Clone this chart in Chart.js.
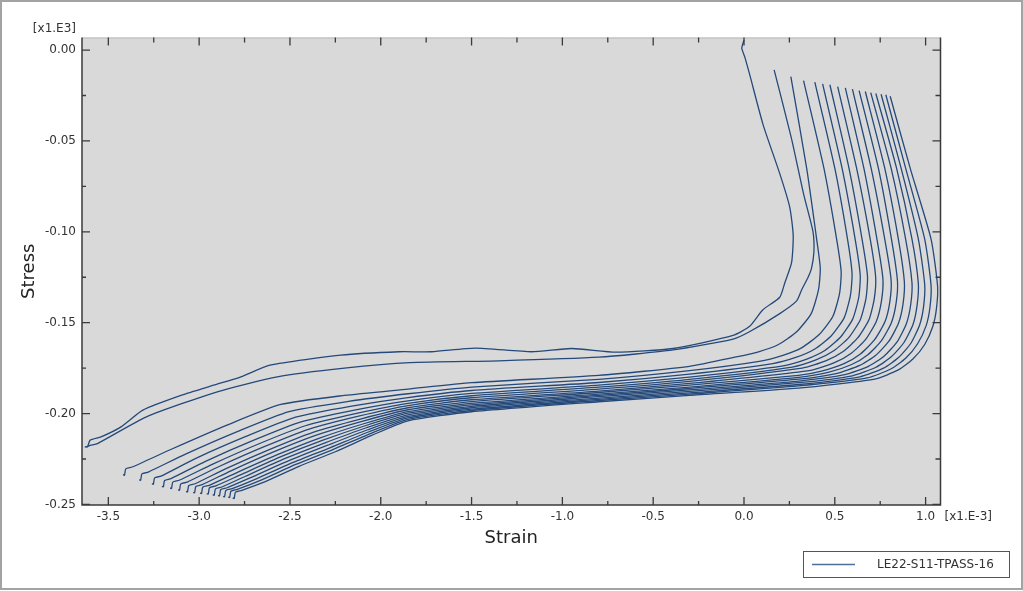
<!DOCTYPE html>
<html><head><meta charset="utf-8">
<script src="https://cdn.jsdelivr.net/npm/chart.js@4/dist/chart.umd.min.js"></script>
<style>html,body{margin:0;padding:0;background:#fff;}canvas{display:block;}</style>
</head><body>
<canvas id="c" width="1023" height="591"></canvas>
<script>
// ---- tick labels / axis values ----
const xTickValues = [-3.5, -3.0, -2.5, -2.0, -1.5, -1.0, -0.5, 0.0, 0.5, 1.0];
const xMinorValues = [-3.25, -2.75, -2.25, -1.75, -1.25, -0.75, -0.25, 0.25, 0.75];
const yTickValues = [0.00, -0.05, -0.10, -0.15, -0.20, -0.25];
const yMinorValues = [-0.025, -0.075, -0.125, -0.175, -0.225];
const xTitle = 'Strain';
const yTitle = 'Stress';
const xExponent = '[x1.E-3]';
const yExponent = '[x1.E3]';
const seriesName = 'LE22-S11-TPASS-16';

// ---- series (strain [x1.E-3], stress [x1.E3]) ----
const curveA = [[0.000,0.0055],[-0.012,0.001],[0.005,-0.004],[0.030,-0.013],[0.105,-0.041],[0.197,-0.068],[0.252,-0.0865],[0.271,-0.102],[0.262,-0.117],[0.225,-0.128],[0.197,-0.136],[0.103,-0.143],[0.031,-0.152],[-0.06,-0.157],[-0.39,-0.1642],[-0.705,-0.1662],[-0.95,-0.1642],[-1.17,-0.166],[-1.48,-0.164],[-1.72,-0.166],[-1.9,-0.166],[-2.22,-0.1679],[-2.61,-0.1734],[-2.77,-0.1798],[-2.92,-0.1844],[-3.1,-0.19],[-3.31,-0.1981],[-3.43,-0.2073],[-3.54,-0.2128],[-3.6,-0.2146],[-3.615,-0.2183],[-3.63,-0.2183]];
const curveB = [[0.166,-0.0109],[0.26,-0.048],[0.33,-0.08],[0.38,-0.1],[0.385,-0.111],[0.372,-0.12],[0.353,-0.125],[0.317,-0.132],[0.29,-0.138],[0.197,-0.145],[0.03,-0.155],[-0.06,-0.159],[-0.39,-0.165],[-0.8,-0.169],[-1.35,-0.171],[-1.84,-0.172],[-2.2,-0.175],[-2.57,-0.1798],[-2.9,-0.188],[-3.29,-0.2018],[-3.56,-0.2165],[-3.6,-0.2175],[-3.625,-0.2185]];
const curveC = [[0.258,-0.0146],[0.345,-0.065],[0.40,-0.104],[0.42,-0.12],[0.41,-0.132],[0.37,-0.145],[0.29,-0.155],[0.19,-0.162],[0.08,-0.166],[-0.05,-0.169],[-0.3,-0.174],[-0.8,-0.179],[-1.5,-0.183],[-1.85,-0.1865],[-2.2,-0.19],[-2.55,-0.195],[-2.85,-0.2065],[-3.15,-0.2195],[-3.369,-0.2294],[-3.404,-0.2304],[-3.411,-0.2339],[-3.419,-0.2336]];
const curveD = [[0.328,-0.0168],[0.44,-0.065],[0.51,-0.104],[0.535,-0.122],[0.526,-0.134],[0.489,-0.1466],[0.414,-0.1565],[0.319,-0.1637],[0.214,-0.168],[0.084,-0.1713],[-0.3,-0.1764],[-0.8,-0.1812],[-1.5,-0.1854],[-1.85,-0.1891],[-2.178,-0.1933],[-2.505,-0.1989],[-2.79,-0.2099],[-3.075,-0.2223],[-3.28,-0.2322],[-3.315,-0.2332],[-3.322,-0.2367],[-3.33,-0.2364]];
const curveE = [[0.39,-0.0177],[0.50,-0.065],[0.57,-0.104],[0.595,-0.123],[0.586,-0.135],[0.552,-0.1472],[0.481,-0.1572],[0.39,-0.1645],[0.289,-0.169],[0.158,-0.1725],[-0.3,-0.1783],[-0.8,-0.1829],[-1.5,-0.1873],[-1.85,-0.1912],[-2.16,-0.1959],[-2.469,-0.202],[-2.742,-0.2126],[-3.015,-0.2245],[-3.21,-0.2344],[-3.245,-0.2354],[-3.252,-0.2389],[-3.26,-0.2386]];
const curveF = [[0.433,-0.0186],[0.54,-0.065],[0.612,-0.104],[0.64,-0.124],[0.632,-0.136],[0.599,-0.1479],[0.532,-0.1579],[0.445,-0.1653],[0.346,-0.17],[0.216,-0.1737],[-0.3,-0.1799],[-0.8,-0.1844],[-1.5,-0.1889],[-1.85,-0.193],[-2.145,-0.1981],[-2.439,-0.2046],[-2.702,-0.2148],[-2.965,-0.2263],[-3.155,-0.2358],[-3.19,-0.2368],[-3.197,-0.2403],[-3.205,-0.24]];
const curveG = [[0.473,-0.0191],[0.578,-0.065],[0.65,-0.104],[0.68,-0.1245],[0.672,-0.1365],[0.641,-0.1482],[0.577,-0.1582],[0.492,-0.1656],[0.396,-0.1705],[0.266,-0.1744],[-0.3,-0.1812],[-0.8,-0.1855],[-1.5,-0.1902],[-1.85,-0.1944],[-2.133,-0.1999],[-2.415,-0.2067],[-2.67,-0.2166],[-2.925,-0.2278],[-3.11,-0.2367],[-3.145,-0.2377],[-3.152,-0.2412],[-3.16,-0.2409]];
const curveH = [[0.516,-0.0201],[0.62,-0.065],[0.695,-0.104],[0.725,-0.125],[0.717,-0.137],[0.688,-0.1484],[0.626,-0.1584],[0.544,-0.166],[0.45,-0.171],[0.32,-0.175],[-0.3,-0.1823],[-0.8,-0.1865],[-1.5,-0.1913],[-1.85,-0.1956],[-2.122,-0.2014],[-2.394,-0.2085],[-2.642,-0.2182],[-2.89,-0.2291],[-3.066,-0.2377],[-3.101,-0.2387],[-3.108,-0.2422],[-3.116,-0.2419]];
const curveI = [[0.558,-0.0208],[0.66,-0.065],[0.732,-0.104],[0.765,-0.126],[0.757,-0.138],[0.729,-0.1492],[0.67,-0.1592],[0.591,-0.1668],[0.498,-0.172],[0.368,-0.1762],[-0.3,-0.1834],[-0.8,-0.1876],[-1.5,-0.1924],[-1.85,-0.1968],[-2.112,-0.203],[-2.373,-0.2103],[-2.614,-0.2198],[-2.855,-0.2304],[-3.022,-0.2386],[-3.057,-0.2396],[-3.064,-0.2431],[-3.072,-0.2428]];
const curveJ = [[0.597,-0.0215],[0.70,-0.065],[0.775,-0.104],[0.81,-0.1265],[0.803,-0.1385],[0.776,-0.1495],[0.718,-0.1595],[0.641,-0.1672],[0.551,-0.1725],[0.421,-0.1768],[0.3,-0.179],[-0.3,-0.1844],[-0.8,-0.1884],[-1.5,-0.1934],[-1.85,-0.1979],[-2.103,-0.2043],[-2.355,-0.2119],[-2.59,-0.2211],[-2.825,-0.2315],[-2.983,-0.2391],[-3.018,-0.2401],[-3.025,-0.2436],[-3.033,-0.2433]];
const curveK = [[0.634,-0.0223],[0.74,-0.065],[0.812,-0.104],[0.845,-0.127],[0.838,-0.139],[0.812,-0.1499],[0.757,-0.1599],[0.682,-0.1676],[0.593,-0.173],[0.463,-0.1774],[0.3,-0.1801],[-0.3,-0.1854],[-0.8,-0.1893],[-1.5,-0.1944],[-1.85,-0.1989],[-2.094,-0.2056],[-2.337,-0.2135],[-2.566,-0.2225],[-2.795,-0.2326],[-2.945,-0.2395],[-2.98,-0.2405],[-2.987,-0.244],[-2.995,-0.2437]];
const curveL = [[0.668,-0.0228],[0.775,-0.065],[0.85,-0.104],[0.883,-0.1275],[0.876,-0.1395],[0.851,-0.1502],[0.798,-0.1602],[0.724,-0.168],[0.637,-0.1735],[0.507,-0.178],[0.3,-0.1811],[-0.3,-0.1862],[-0.8,-0.19],[-1.5,-0.1952],[-1.85,-0.1998],[-2.086,-0.2067],[-2.322,-0.2148],[-2.546,-0.2236],[-2.77,-0.2336],[-2.908,-0.2398],[-2.943,-0.2408],[-2.95,-0.2443],[-2.958,-0.244]];
const curveM = [[0.698,-0.0234],[0.81,-0.065],[0.89,-0.104],[0.925,-0.128],[0.918,-0.14],[0.894,-0.1506],[0.843,-0.1606],[0.771,-0.1684],[0.685,-0.174],[0.555,-0.1786],[0.3,-0.1821],[-0.3,-0.187],[-0.8,-0.1907],[-1.5,-0.196],[-1.85,-0.2007],[-2.079,-0.2078],[-2.307,-0.2161],[-2.526,-0.2247],[-2.745,-0.2345],[-2.875,-0.2404],[-2.91,-0.2414],[-2.917,-0.2449],[-2.925,-0.2446]];
const curveN = [[0.726,-0.0239],[0.84,-0.065],[0.925,-0.104],[0.96,-0.1285],[0.953,-0.1405],[0.931,-0.1509],[0.881,-0.1609],[0.811,-0.1688],[0.727,-0.1745],[0.597,-0.1792],[0.3,-0.183],[-0.3,-0.1878],[-0.8,-0.1915],[-1.5,-0.1968],[-1.85,-0.2016],[-2.071,-0.2089],[-2.292,-0.2174],[-2.506,-0.2259],[-2.72,-0.2354],[-2.846,-0.2408],[-2.881,-0.2418],[-2.888,-0.2453],[-2.896,-0.245]];
const curveO = [[0.755,-0.0243],[0.865,-0.065],[0.96,-0.104],[0.995,-0.129],[0.989,-0.141],[0.967,-0.1513],[0.919,-0.1613],[0.851,-0.1692],[0.768,-0.175],[0.638,-0.1798],[0.3,-0.184],[-0.3,-0.1886],[-0.8,-0.1922],[-1.5,-0.1976],[-1.85,-0.2024],[-2.064,-0.21],[-2.277,-0.2187],[-2.486,-0.227],[-2.695,-0.2363],[-2.818,-0.2413],[-2.853,-0.2423],[-2.86,-0.2458],[-2.868,-0.2455]];
const curveP = [[0.781,-0.0246],[0.89,-0.065],[0.995,-0.104],[1.03,-0.1295],[1.024,-0.1415],[1.003,-0.1516],[0.956,-0.1616],[0.89,-0.1696],[0.808,-0.1755],[0.678,-0.1804],[0.3,-0.1848],[-0.3,-0.1893],[-0.8,-0.1928],[-1.5,-0.1983],[-1.85,-0.2032],[-2.057,-0.211],[-2.264,-0.2198],[-2.468,-0.228],[-2.673,-0.2372],[-2.79,-0.2417],[-2.825,-0.2427],[-2.832,-0.2462],[-2.84,-0.2459]];
const curveQ = [[0.805,-0.0254],[0.915,-0.065],[1.03,-0.104],[1.066,-0.13],[1.06,-0.142],[1.04,-0.152],[0.995,-0.162],[0.93,-0.17],[0.85,-0.176],[0.72,-0.181],[0.3,-0.186],[-0.3,-0.19],[-0.8,-0.1935],[-1.5,-0.199],[-1.85,-0.204],[-2.05,-0.212],[-2.25,-0.221],[-2.45,-0.229],[-2.65,-0.238],[-2.765,-0.2422],[-2.8,-0.2432],[-2.807,-0.2467],[-2.815,-0.2464]];

const curves = [curveA, curveB, curveC, curveD, curveE, curveF, curveG, curveH, curveI,
                curveJ, curveK, curveL, curveM, curveN, curveO, curveP, curveQ];

const LINE_COLOR = '#24497a';
const TEXT_COLOR = '#333333';
const FONT = '"DejaVu Sans", Verdana, sans-serif';

const datasets = curves.map((c, i) => ({
  label: seriesName,
  data: c.map(p => ({x: p[0], y: p[1]})),
  showLine: true,
  borderColor: LINE_COLOR,
  backgroundColor: LINE_COLOR,
  borderWidth: 1.3,
  pointRadius: 0,
  pointHoverRadius: 0,
  tension: 0.2,
  fill: false
}));

const decor = {
  id: 'decor',
  beforeDraw(chart) {
    const {ctx, chartArea: a, width, height} = chart;
    ctx.save();
    ctx.fillStyle = '#ffffff';
    ctx.fillRect(0, 0, width, height);
    ctx.fillStyle = '#d9d9d9';
    ctx.fillRect(a.left, a.top, a.right - a.left, a.bottom - a.top);
    ctx.restore();
  },
  afterDraw(chart) {
    const {ctx, chartArea: a, width, height} = chart;
    const xs = chart.scales.x, ys = chart.scales.y;
    ctx.save();
    // outer frame
    ctx.strokeStyle = '#a3a3a3';
    ctx.lineWidth = 2;
    ctx.strokeRect(1, 1, width - 2, height - 3);
    // top edge of plot
    ctx.strokeStyle = '#b8b8b8';
    ctx.lineWidth = 1;
    ctx.beginPath(); ctx.moveTo(a.left, a.top + 0.5); ctx.lineTo(a.right, a.top + 0.5); ctx.stroke();
    // left / bottom / right axes lines
    ctx.strokeStyle = '#3a3a3a';
    ctx.lineWidth = 1.5;
    ctx.beginPath();
    ctx.moveTo(a.left, a.top); ctx.lineTo(a.left, a.bottom);
    ctx.lineTo(a.right, a.bottom); ctx.lineTo(a.right, a.top);
    ctx.stroke();
    // inward ticks on all sides
    ctx.lineWidth = 1.3;
    ctx.beginPath();
    const seg = (x1, y1, x2, y2) => { ctx.moveTo(x1, y1); ctx.lineTo(x2, y2); };
    xTickValues.forEach(v => { const p = xs.getPixelForValue(v); seg(p, a.bottom, p, a.bottom - 8); seg(p, a.top, p, a.top + 8); });
    xMinorValues.forEach(v => { const p = xs.getPixelForValue(v); seg(p, a.bottom, p, a.bottom - 4); seg(p, a.top, p, a.top + 5); });
    yTickValues.forEach(v => { const p = ys.getPixelForValue(v); seg(a.left, p, a.left + 8, p); seg(a.right, p, a.right - 8, p); });
    yMinorValues.forEach(v => { const p = ys.getPixelForValue(v); seg(a.left, p, a.left + 4, p); seg(a.right, p, a.right - 5, p); });
    ctx.stroke();
    // exponent labels
    ctx.fillStyle = TEXT_COLOR;
    ctx.font = '12px ' + FONT;
    ctx.textBaseline = 'middle';
    ctx.textAlign = 'right';
    ctx.fillText(yExponent, a.left - 6, a.top - 9);
    ctx.textAlign = 'left';
    ctx.fillText(xExponent, a.right + 4, a.bottom + 12);
    // legend box
    const bx = width - 220, by = height - 40, bw = 206, bh = 26;
    ctx.fillStyle = '#ffffff';
    ctx.fillRect(bx, by, bw, bh);
    ctx.strokeStyle = '#555555';
    ctx.lineWidth = 1;
    ctx.strokeRect(bx + 0.5, by + 0.5, bw, bh);
    ctx.strokeStyle = '#4d7299';
    ctx.lineWidth = 1.5;
    ctx.beginPath(); ctx.moveTo(bx + 9, by + 13.5); ctx.lineTo(bx + 52, by + 13.5); ctx.stroke();
    ctx.fillStyle = TEXT_COLOR;
    ctx.textAlign = 'left';
    ctx.fillText(seriesName, bx + 74, by + 13.5);
    ctx.restore();
  }
};

new Chart(document.getElementById('c'), {
  type: 'scatter',
  data: { datasets },
  plugins: [decor],
  options: {
    responsive: false,
    animation: false,
    events: [],
    layout: { padding: { left: 0, right: 82.5, top: 37.5, bottom: 0 } },
    plugins: { legend: { display: false }, tooltip: { enabled: false }, title: { display: false } },
    scales: {
      x: {
        type: 'linear', position: 'bottom',
        min: -3.645, max: 1.082,
        afterFit(s) { s.height = 86; },
        grid: { display: false, drawTicks: false },
        border: { display: false },
        ticks: {
          stepSize: 0.5, includeBounds: false, autoSkip: false, maxRotation: 0,
          padding: 5, color: TEXT_COLOR, font: { family: FONT, size: 12 },
          callback: v => Number(v).toFixed(1)
        },
        title: { display: true, text: xTitle, color: '#222', font: { family: FONT, size: 18 }, padding: { top: 0, bottom: 42 } }
      },
      y: {
        type: 'linear', position: 'left',
        min: -0.2503, max: 0.0069,
        afterFit(s) { s.width = 82; },
        grid: { display: false, drawTicks: false },
        border: { display: false },
        ticks: {
          stepSize: 0.05, includeBounds: false, autoSkip: false,
          padding: 6, color: TEXT_COLOR, font: { family: FONT, size: 12 },
          callback: v => Number(v).toFixed(2)
        },
        title: { display: true, text: yTitle, color: '#222', font: { family: FONT, size: 18 }, padding: { top: 19, bottom: 0 } }
      }
    }
  }
});
</script>
</body></html>
